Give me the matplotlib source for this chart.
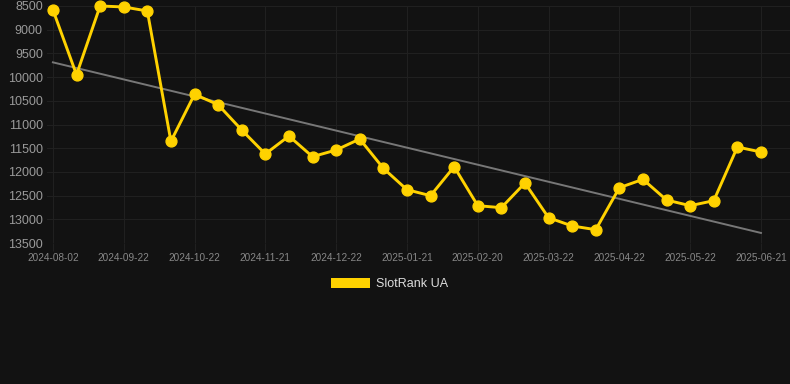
import numpy as np
import matplotlib
matplotlib.use('Agg')
import matplotlib.pyplot as plt
from matplotlib.patches import Patch

plt.rcParams['font.family'] = ['Liberation Sans', 'DejaVu Sans']

# rank values, one point roughly every 10 days
ranks = [8580, 9950, 8500, 8520, 8605, 11355, 10363, 10582, 11116, 11622,
         11243, 11679, 11538, 11306, 11924, 12375, 12502, 11890, 12713, 12755,
         12234, 12966, 13141, 13219, 12333, 12157, 12593, 12713, 12607, 11475,
         11580]
tick_labels = ['2024-08-02', '2024-09-22', '2024-10-22', '2024-11-21', '2024-12-22',
               '2025-01-21', '2025-02-20', '2025-03-22', '2025-04-22', '2025-05-22',
               '2025-06-21']
series_name = 'SlotRank UA'

bg = '#121212'
yellow = '#FFD200'

x = np.arange(len(ranks))
coef = np.polyfit(x, ranks, 1)
trend = np.polyval(coef, x)

fig = plt.figure(figsize=(7.9, 3.84), dpi=100, facecolor=bg)
ax = fig.add_axes([47 / 790, 1 - 243 / 384, 743 / 790, 237 / 384])
ax.set_facecolor(bg)

ax.plot(x, trend, color='#777777', lw=1.4, zorder=2)
ax.plot(x, ranks, color=yellow, lw=2.1, marker='o', ms=7.8, zorder=3, clip_on=False)

ax.set_ylim(13500, 8500)
ax.set_xlim(-0.25, 31.23)
ax.set_yticks(range(8500, 14000, 500))
ax.set_xticks(x[::3])
ax.set_xticklabels(tick_labels)

ax.grid(True, color='#202020', lw=0.8)
ax.set_axisbelow(True)
for s in ax.spines.values():
    s.set_visible(False)
ax.tick_params(axis='y', length=0, colors='#9a9a9a', labelsize=9, pad=3)
ax.tick_params(axis='x', length=6, color='#202020', colors='#888888', labelsize=7.2, pad=1)

fig.legend(handles=[Patch(facecolor=yellow, label=series_name)], loc='center',
           bbox_to_anchor=(390 / 790, 1 - 284 / 384), frameon=False,
           labelcolor='#dddddd', fontsize=9, handlelength=3.1, handleheight=0.8,
           handletextpad=0.5)

fig.savefig('out.png', dpi=100, facecolor=bg)
